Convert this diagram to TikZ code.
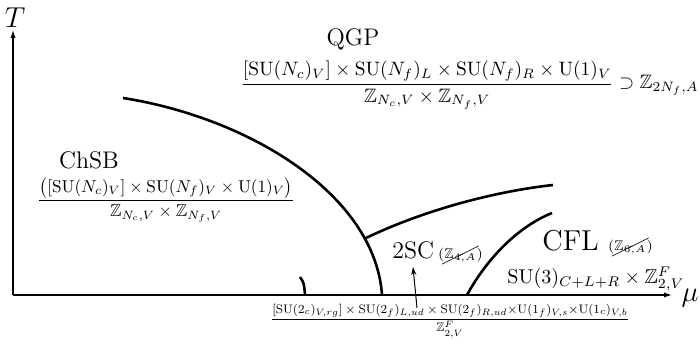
\documentclass[tikz,border=0pt]{standalone}
\usepackage{amsmath,amssymb}
\usepackage{cancel}
\usetikzlibrary{arrows.meta}
\begin{document}
\begin{tikzpicture}[x=0.5pt,y=-0.5pt,
  axis/.style={line width=0.6pt,-{Latex[length=4pt,width=2.6pt]}},
  boundary/.style={line width=1.3pt},
  lbl/.style={inner sep=0pt}]
\useasboundingbox (0,0) rectangle (700,353);
% axes
\coordinate (O) at (13,295);
\coordinate (Tend) at (13,30);
\coordinate (muend) at (672,295);
\draw[axis] (O) -- (Tend);
\draw[axis] (O) -- (muend);
\node[lbl] (T) at (15,18) {\Large $T$};
\node[lbl] (mu) at (690,298) {\Large $\mu$};
% phase boundaries
\coordinate (c1s) at (123,98);
\coordinate (c1e) at (382,295);
\draw[boundary] (c1s) .. controls (250,118) and (375,195) .. (c1e);
\coordinate (u1) at (366,238);
\coordinate (u2) at (553,185);
\draw[boundary] (u1) .. controls (420,212) and (490,192) .. (u2);
\coordinate (f1) at (467,295);
\coordinate (f2) at (552,213);
\draw[boundary] (f1) .. controls (485,262) and (515,228) .. (f2);
\coordinate (s1) at (300,277);
\coordinate (s2) at (305,295);
\draw[boundary] (s1) .. controls (304,283) .. (s2);
% labels
\node[lbl] (qgp) at (353,39) {\large QGP};
\node[lbl,anchor=east,scale=0.97] (qgpsym) at (699,85)
  {$\dfrac{[\mathrm{SU}(N_c)_V]\times\mathrm{SU}(N_f)_L\times\mathrm{SU}(N_f)_R\times\mathrm{U}(1)_V}{\mathbb{Z}_{N_c,V}\times\mathbb{Z}_{N_f,V}}\supset\mathbb{Z}_{2N_f,A}$};
\node[lbl] (chsb) at (89,160) {\large ChSB};
\node[lbl,anchor=west,scale=0.86] (chsbsym) at (37,200)
  {$\dfrac{\big([\mathrm{SU}(N_c)_V]\times\mathrm{SU}(N_f)_V\times\mathrm{U}(1)_V\big)}{\mathbb{Z}_{N_c,V}\times\mathbb{Z}_{N_f,V}}$};
\node[lbl,anchor=west] (tsc) at (392,252) {\large 2SC\,{\scriptsize$(\cancel{\mathbb{Z}_{4,A}})$}};
\node[lbl,anchor=west] (cfl) at (542,242) {\Large CFL\ {\scriptsize$(\cancel{\mathbb{Z}_{6,A}})$}};
\node[lbl,anchor=west] (cflsym) at (507,279) {$\mathrm{SU}(3)_{C+L+R}\times\mathbb{Z}^F_{2,V}$};
\node[lbl,scale=0.77] (tscsym) at (450,321)
  {\footnotesize$\dfrac{[\mathrm{SU}(2_c)_{V,rg}]\times\mathrm{SU}(2_f)_{L,ud}\times\mathrm{SU}(2_f)_{R,ud}{\times}\mathrm{U}(1_f)_{V,s}{\times}\mathrm{U}(1_c)_{V,b}}{\mathbb{Z}^F_{2,V}}$};
\coordinate (a1) at (417,308);
\coordinate (a2) at (413,267);
\draw[line width=0.5pt,-{Stealth[length=4pt,width=2.6pt]}] (a1) -- (a2);
\end{tikzpicture}
\end{document}
